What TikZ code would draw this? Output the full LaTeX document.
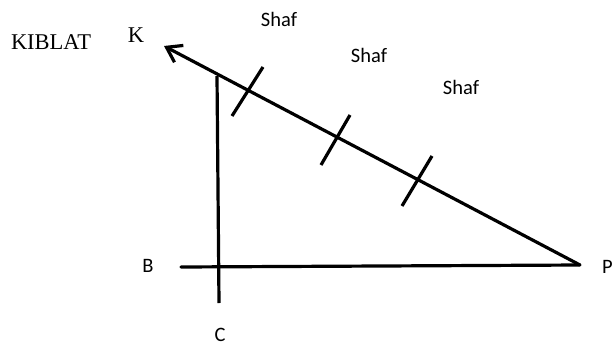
\documentclass[tikz,border=0pt]{standalone}
\usepackage{fontspec}
\setmainfont{Liberation Serif}
\newfontfamily\calib{Carlito}
\usetikzlibrary{arrows.meta}
\begin{document}
\begin{tikzpicture}[x=1pt,y=-1pt,
  ln/.style={line width=3.2pt},
  lbl/.style={font=\calib\fontsize{20.5}{24}\selectfont, inner sep=0pt},
  ser/.style={font=\fontsize{22.5}{26}\selectfont, inner sep=0pt}]
\useasboundingbox (0,0) rectangle (612,348);
% points
\coordinate (K) at (164,46);
\coordinate (P) at (580,265);
\coordinate (Bl) at (181,267);
\coordinate (Ct) at (217,76);
\coordinate (Cb) at (219,303);
% lines
\draw[ln, -{Straight Barb[length=14pt,width=19pt,line width=3.2pt]}] (P) -- (K);
\draw[ln, line cap=round] (Bl) -- (P);
\draw[ln] (Ct) -- (Cb);
% tick marks
\coordinate (t1a) at (263,67); \coordinate (t1b) at (232,116);
\coordinate (t2a) at (350,115); \coordinate (t2b) at (321,165);
\coordinate (t3a) at (432,156); \coordinate (t3b) at (402,206);
\draw[ln] (t1a) -- (t1b);
\draw[ln] (t2a) -- (t2b);
\draw[ln] (t3a) -- (t3b);
% labels
\node[ser] (kiblat) at (51,42) {KIBLAT};
\node[ser] (klab) at (136,35) {K};
\node[lbl] (s1) at (279,19) {Shaf};
\node[lbl] (s2) at (369,55) {Shaf};
\node[lbl] (s3) at (461,87) {Shaf};
\node[lbl] (blab) at (148,266) {B};
\node[lbl] (clab) at (220,335) {C};
\node[lbl, anchor=west] (plab) at (602,267) {P};
\end{tikzpicture}
\end{document}
